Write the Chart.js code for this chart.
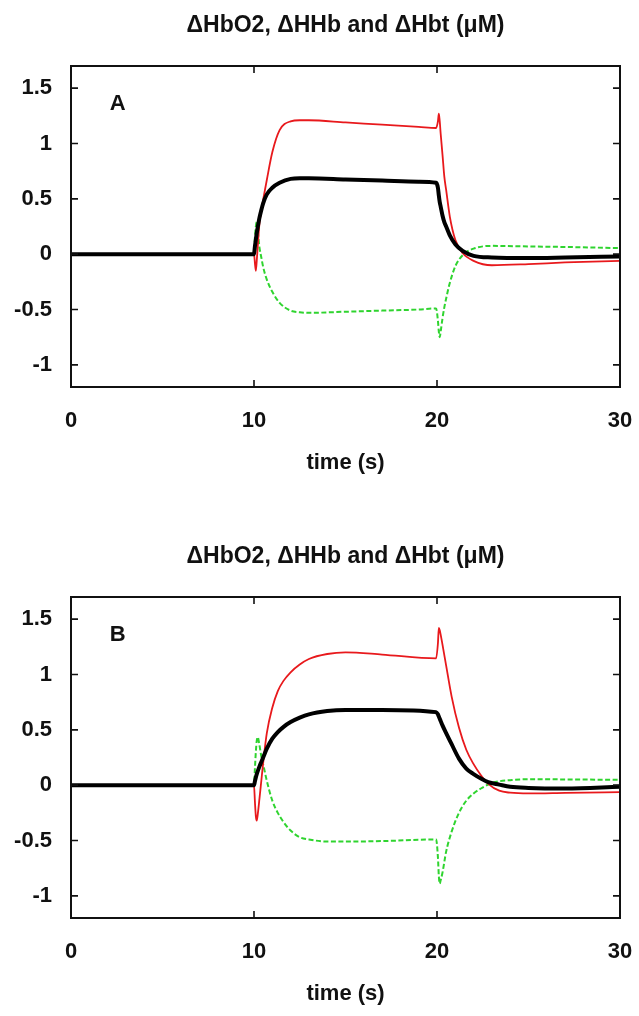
<!DOCTYPE html>
<html>
<head>
<meta charset="utf-8">
<script src="https://cdn.jsdelivr.net/npm/chart.js@4.4.1/dist/chart.umd.min.js"></script>
<style>
  html, body { margin: 0; padding: 0; background: #fff; }
  body { width: 639px; height: 1016px; position: relative; overflow: hidden; }
  .panel { position: absolute; left: 0; width: 639px; height: 485px; }
</style>
</head>
<body>
<div class="panel" style="top:0"><canvas id="chartA"></canvas></div>
<div class="panel" style="top:531px"><canvas id="chartB"></canvas></div>
<script>
const chartTitle = 'ΔHbO2, ΔHHb and ΔHbt (μM)';
const xTitle = 'time (s)';
const xTicks = [0, 10, 20, 30];
const yTicks = [-1, -0.5, 0, 0.5, 1, 1.5];

// panel A
const timeA = [0, 10, 10.05, 10.1, 10.15, 10.2, 10.3, 10.4, 10.5, 10.7, 11, 11.4, 12, 12.5, 13, 15, 17, 19,
  19.95, 20.05, 20.1, 20.15, 20.2, 20.3, 20.4, 20.5, 20.7, 21, 21.4, 22, 23, 25, 27, 30];
const hbo2A = [0, 0, -0.08, -0.15, -0.06, 0.06, 0.28, 0.39, 0.49, 0.67, 0.92, 1.12, 1.2, 1.21, 1.21, 1.19, 1.17, 1.15,
  1.14, 1.2, 1.27, 1.2, 1.09, 0.9, 0.7, 0.58, 0.34, 0.13, 0.01, -0.06, -0.1, -0.09, -0.075, -0.06];
const hhbA = [0, 0, 0.15, 0.25, 0.29, 0.22, 0.06, -0.03, -0.115, -0.23, -0.34, -0.44, -0.51, -0.525, -0.53, -0.52, -0.51, -0.5,
  -0.49, -0.6, -0.7, -0.75, -0.7, -0.58, -0.48, -0.4, -0.26, -0.11, -0.01, 0.05, 0.075, 0.07, 0.065, 0.055];
const hbtA = [0, 0, 0.07, 0.13, 0.19, 0.24, 0.33, 0.4, 0.46, 0.54, 0.6, 0.645, 0.68, 0.685, 0.685, 0.675, 0.665, 0.655,
  0.645, 0.6, 0.53, 0.47, 0.43, 0.35, 0.29, 0.25, 0.17, 0.09, 0.03, -0.015, -0.03, -0.035, -0.03, -0.02];

// panel B
const timeB = [0, 10, 10.05, 10.1, 10.15, 10.2, 10.3, 10.4, 10.5, 10.7, 11, 11.3, 11.6, 12, 12.5, 13, 14, 15, 17,
  19.95, 20.05, 20.1, 20.15, 20.2, 20.3, 20.5, 20.8, 21.2, 21.6, 22, 22.4, 22.8, 23.4, 24, 25, 27, 30];
const hbo2B = [0, 0, -0.15, -0.28, -0.32, -0.27, -0.12, 0.04, 0.2, 0.47, 0.7, 0.85, 0.94, 1.02, 1.09, 1.14, 1.185, 1.2, 1.18,
  1.145, 1.28, 1.42, 1.4, 1.36, 1.27, 1.08, 0.8, 0.52, 0.32, 0.19, 0.09, 0.012, -0.05, -0.068, -0.075, -0.07, -0.063];
const hhbB = [0, 0, 0.15, 0.3, 0.4, 0.435, 0.36, 0.26, 0.19, 0.04, -0.14, -0.25, -0.33, -0.41, -0.47, -0.49, -0.51, -0.51, -0.505,
  -0.49, -0.65, -0.82, -0.89, -0.86, -0.79, -0.6, -0.42, -0.25, -0.14, -0.075, -0.03, 0.006, 0.035, 0.045, 0.054, 0.052, 0.048];
const hbtB = [0, 0, 0.035, 0.07, 0.1, 0.125, 0.17, 0.21, 0.25, 0.33, 0.42, 0.48, 0.525, 0.57, 0.61, 0.64, 0.67, 0.68, 0.68,
  0.66, 0.64, 0.62, 0.6, 0.58, 0.54, 0.47, 0.37, 0.24, 0.15, 0.1, 0.06, 0.027, 0.005, -0.015, -0.025, -0.03, -0.015];

const FONT = '"Liberation Sans", Arial, sans-serif';

function pts(t, v) {
  return t.map((x, i) => ({ x: x, y: v[i] }));
}

// box round the plot, inward ticks on all four sides, panel letter
const framePlugin = {
  id: 'frame',
  afterDatasetsDraw(chart, args, opts) {
    const { ctx, chartArea: a, scales: { x, y } } = chart;
    const len = 7;
    ctx.save();
    ctx.strokeStyle = '#111';
    ctx.lineWidth = 2;
    ctx.strokeRect(a.left, a.top, a.right - a.left, a.bottom - a.top);
    ctx.lineWidth = 1.6;
    ctx.beginPath();
    yTicks.forEach(v => {
      const py = y.getPixelForValue(v);
      ctx.moveTo(a.left, py); ctx.lineTo(a.left + len, py);
      ctx.moveTo(a.right, py); ctx.lineTo(a.right - len, py);
    });
    xTicks.forEach(v => {
      const px = x.getPixelForValue(v);
      ctx.moveTo(px, a.top); ctx.lineTo(px, a.top + len);
      ctx.moveTo(px, a.bottom); ctx.lineTo(px, a.bottom - len);
    });
    ctx.stroke();
    ctx.fillStyle = '#111';
    ctx.font = 'bold 22px ' + FONT;
    ctx.textAlign = 'center';
    ctx.textBaseline = 'middle';
    ctx.fillText(opts.letter, x.getPixelForValue(2.55), y.getPixelForValue(1.36));
    ctx.restore();
  }
};

function makeChart(id, letter, t, hbo2, hhb, hbt) {
  new Chart(document.getElementById(id), {
    type: 'line',
    data: {
      datasets: [
        { label: 'ΔHbt', data: pts(t, hbt), borderColor: '#000', borderWidth: 4, order: 0 },
        { label: 'ΔHbO2', data: pts(t, hbo2), borderColor: '#e8191c', borderWidth: 1.8, order: 1 },
        { label: 'ΔHHb', data: pts(t, hhb), borderColor: '#2fd42f', borderWidth: 2, borderDash: [5, 2.5], order: 2 }
      ]
    },
    options: {
      responsive: true,
      maintainAspectRatio: false,
      animation: false,
      events: [],
      layout: { padding: { left: 0, right: 19, top: 0, bottom: 0 } },
      elements: {
        point: { radius: 0 },
        line: { cubicInterpolationMode: 'monotone', fill: false }
      },
      plugins: {
        legend: { display: false },
        tooltip: { enabled: false },
        title: {
          display: true,
          text: chartTitle,
          fullSize: false,
          color: '#111',
          font: { family: FONT, size: 23, weight: 'bold' },
          padding: { top: 12, bottom: 26.4 }
        },
        frame: { letter: letter }
      },
      scales: {
        x: {
          type: 'linear',
          min: 0,
          max: 30,
          afterBuildTicks: s => { s.ticks = xTicks.map(v => ({ value: v })); },
          afterFit: s => { s.height = 98; s.paddingLeft = 0; s.paddingRight = 0; },
          grid: { display: false, drawTicks: false },
          border: { display: false },
          ticks: {
            color: '#111',
            padding: 21,
            maxRotation: 0,
            font: { family: FONT, size: 22, weight: 'bold' },
            callback: v => String(v)
          },
          title: {
            display: true,
            text: xTitle,
            color: '#111',
            font: { family: FONT, size: 22, weight: 'bold' },
            padding: { top: 0, bottom: 9 }
          }
        },
        y: {
          type: 'linear',
          min: -1.2,
          max: 1.7,
          afterBuildTicks: s => { s.ticks = yTicks.map(v => ({ value: v })); },
          afterFit: s => { s.width = 71; s.paddingTop = 0; s.paddingBottom = 0; },
          grid: { display: false, drawTicks: false },
          border: { display: false },
          ticks: {
            color: '#111',
            padding: 19,
            font: { family: FONT, size: 22, weight: 'bold' },
            callback: v => String(v)
          }
        }
      }
    },
    plugins: [framePlugin]
  });
}

makeChart('chartA', 'A', timeA, hbo2A, hhbA, hbtA);
makeChart('chartB', 'B', timeB, hbo2B, hhbB, hbtB);
</script>
</body>
</html>
